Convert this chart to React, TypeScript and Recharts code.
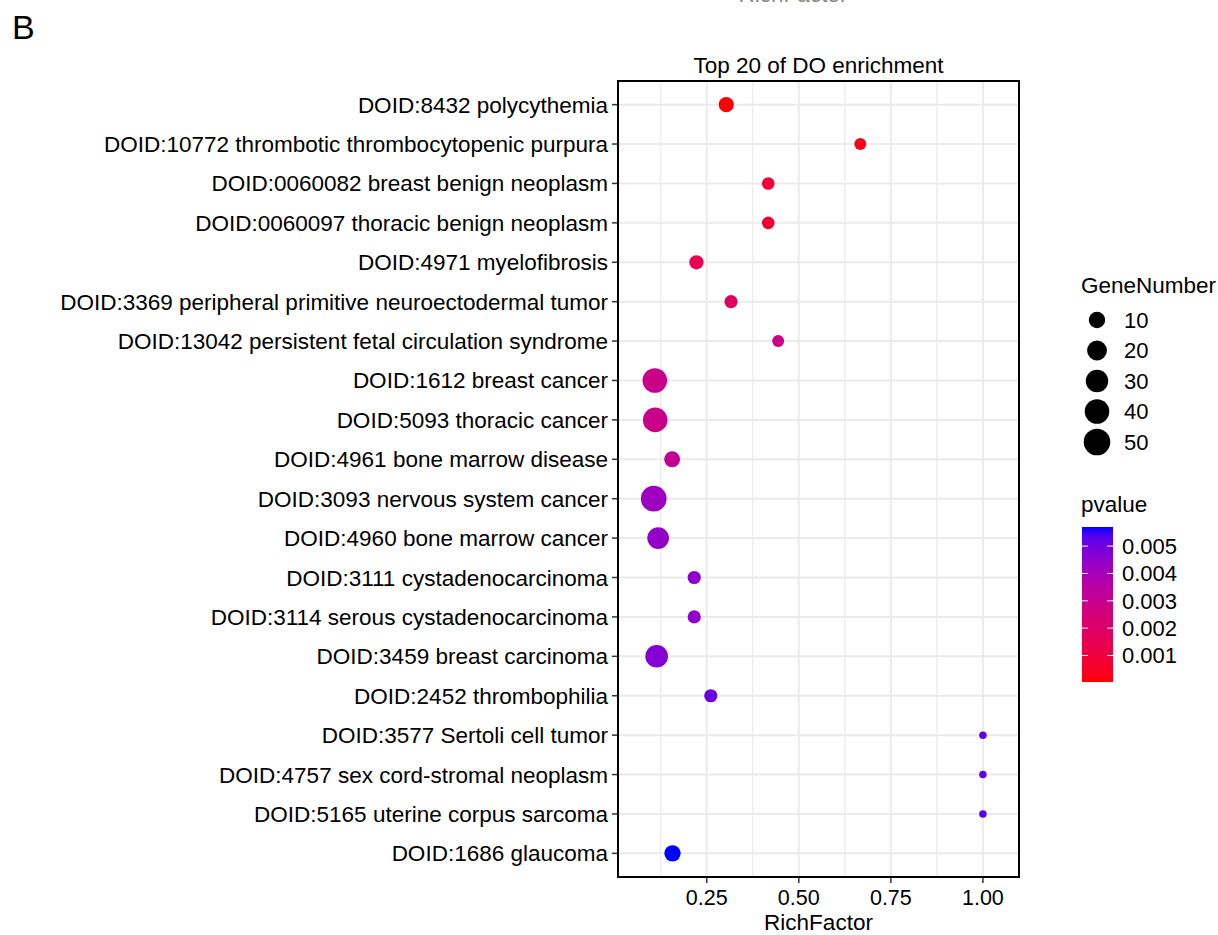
import React from 'react';
import { ScatterChart, Scatter, XAxis, YAxis, CartesianGrid } from 'recharts';

// Top 20 DO terms, top row first
const terms = [
  'DOID:8432 polycythemia',
  'DOID:10772 thrombotic thrombocytopenic purpura',
  'DOID:0060082 breast benign neoplasm',
  'DOID:0060097 thoracic benign neoplasm',
  'DOID:4971 myelofibrosis',
  'DOID:3369 peripheral primitive neuroectodermal tumor',
  'DOID:13042 persistent fetal circulation syndrome',
  'DOID:1612 breast cancer',
  'DOID:5093 thoracic cancer',
  'DOID:4961 bone marrow disease',
  'DOID:3093 nervous system cancer',
  'DOID:4960 bone marrow cancer',
  'DOID:3111 cystadenocarcinoma',
  'DOID:3114 serous cystadenocarcinoma',
  'DOID:3459 breast carcinoma',
  'DOID:2452 thrombophilia',
  'DOID:3577 Sertoli cell tumor',
  'DOID:4757 sex cord-stromal neoplasm',
  'DOID:5165 uterine corpus sarcoma',
  'DOID:1686 glaucoma',
];
const richFactor = [0.303, 0.667, 0.417, 0.417, 0.222, 0.316, 0.444, 0.109, 0.110, 0.156,
  0.106, 0.118, 0.216, 0.216, 0.114, 0.261, 1.0, 1.0, 1.0, 0.157];
const geneNumber = [10, 4, 5, 5, 8, 6, 4, 46, 46, 12, 52, 32, 6, 6, 36, 6, 1, 1, 1, 13];
const pValue = [0.00003, 0.0003, 0.00088, 0.0009, 0.0014, 0.0019, 0.0027, 0.0029, 0.0029, 0.0031,
  0.0042, 0.0044, 0.0045, 0.00455, 0.0047, 0.0051, 0.0052, 0.0052, 0.0053, 0.0057];

const xTicks = [0.25, 0.5, 0.75, 1.0];
const xMinor = [0.125, 0.375, 0.625, 0.875];
const sizeBreaks = [10, 20, 30, 40, 50];
const pBreaks = [0.001, 0.002, 0.003, 0.004, 0.005];

const FONT = '"Liberation Sans", Arial, Helvetica, sans-serif';

// ggplot-like colour ramp: red -> blue in CIELAB
const toLin = (c: number) => { c /= 255; return c <= 0.04045 ? c / 12.92 : Math.pow((c + 0.055) / 1.055, 2.4); };
const fromLin = (c: number) => {
  const v = c <= 0.0031308 ? 12.92 * c : 1.055 * Math.pow(c, 1 / 2.4) - 0.055;
  return Math.round(Math.max(0, Math.min(1, v)) * 255);
};
function rgbToLab([r, g, b]: number[]) {
  const R = toLin(r), G = toLin(g), B = toLin(b);
  const X = (0.4124 * R + 0.3576 * G + 0.1805 * B) / 0.95047;
  const Y = 0.2126 * R + 0.7152 * G + 0.0722 * B;
  const Z = (0.0193 * R + 0.1192 * G + 0.9505 * B) / 1.08883;
  const f = (t: number) => (t > 0.008856 ? Math.cbrt(t) : 7.787 * t + 16 / 116);
  return [116 * f(Y) - 16, 500 * (f(X) - f(Y)), 200 * (f(Y) - f(Z))];
}
function labToHex([L, a, b]: number[]) {
  const fy = (L + 16) / 116, fx = fy + a / 500, fz = fy - b / 200;
  const inv = (t: number) => (t * t * t > 0.008856 ? t * t * t : (t - 16 / 116) / 7.787);
  const X = inv(fx) * 0.95047, Y = inv(fy), Z = inv(fz) * 1.08883;
  const R = 3.2406 * X - 1.5372 * Y - 0.4986 * Z;
  const G = -0.9689 * X + 1.8758 * Y + 0.0415 * Z;
  const B = 0.0557 * X - 0.204 * Y + 1.057 * Z;
  return '#' + [R, G, B].map((c) => fromLin(c).toString(16).padStart(2, '0')).join('');
}
const LOW = rgbToLab([255, 0, 0]);
const HIGH = rgbToLab([0, 0, 255]);
const pMin = Math.min(...pValue);
const pMax = Math.max(...pValue);
const rampColor = (t: number) => labToHex(LOW.map((l, i) => l + (HIGH[i] - l) * t));
const pColor = (p: number) => rampColor((p - pMin) / (pMax - pMin));

// point diameter grows with sqrt of gene count
const gMin = Math.min(...geneNumber);
const dia = (n: number) => 7.5 + 2.55 * Math.sqrt(Math.max(0, n - gMin));

const data = terms.map((name, i) => ({
  name,
  row: i + 1,
  rich: richFactor[i],
  gene: geneNumber[i],
  p: pValue[i],
}));

const rowTicks = terms.map((_, i) => i + 1);

const Dot = (props: any) => {
  const { cx, cy, payload } = props;
  if (cx == null || cy == null) return null;
  return <circle cx={cx} cy={cy} r={dia(payload.gene) / 2} fill={pColor(payload.p)} />;
};

const minorGen = ({ xAxis }: any) => {
  const s = xAxis?.scale;
  if (!s) return [];
  return xMinor.map((v) => (typeof s === 'function' ? s(v) : s.map(v)));
};

// panel box in page pixels
const PX0 = 618, PX1 = 1019, PY0 = 81, PY1 = 877;
const BAR_X = 1082, BAR_W = 31, BAR_TOP = 527, BAR_BOT = 682;

export default function App() {
  const barY = (p: number) => BAR_BOT - ((p - pMin) / (pMax - pMin)) * (BAR_BOT - BAR_TOP);
  const stops = Array.from({ length: 21 }, (_, i) => i / 20);
  const legendRows = sizeBreaks.map((n, i) => ({ n, y: 320 + i * 30.5 }));

  return (
    <div style={{ position: 'absolute', left: 0, top: 0, width: 1218, height: 935, background: '#fff', fontFamily: FONT }}>
      <ScatterChart width={1218} height={935} margin={{ top: PY0, right: 1218 - PX1, bottom: 0, left: 0 }}>
        <CartesianGrid horizontal={false} vertical stroke="#EBEBEB" strokeWidth={1.3}
          verticalCoordinatesGenerator={minorGen} />
        <CartesianGrid stroke="#EBEBEB" strokeWidth={2} />
        <XAxis type="number" dataKey="rich" domain={[0.009, 1.098]} ticks={xTicks} allowDataOverflow
          height={935 - PY1} tickFormatter={(v: number) => v.toFixed(2)} axisLine={false}
          tickLine={{ stroke: '#333', strokeWidth: 1.5 }} tickSize={6} tickMargin={7}
          tick={{ fill: '#000', fontSize: 21.5, fontFamily: FONT }} interval={0}
          label={{ value: 'RichFactor', position: 'insideBottom', offset: 5, fill: '#000', fontSize: 22.5, fontFamily: FONT }} />
        <YAxis type="number" dataKey="row" domain={[0.4, 20.6]} ticks={rowTicks} reversed interval={0}
          width={PX0} tickFormatter={(v: number) => terms[v - 1] ?? ''} axisLine={false}
          tickLine={{ stroke: '#333', strokeWidth: 1.5 }} tickSize={6} tickMargin={4}
          tick={{ fill: '#000', fontSize: 22.5, fontFamily: FONT }} />
        <Scatter data={data} shape={Dot} isAnimationActive={false} />
      </ScatterChart>

      <svg width={1218} height={935} style={{ position: 'absolute', left: 0, top: 0, pointerEvents: 'none' }}
        fontFamily={FONT}>
        <defs>
          <linearGradient id="pbar" x1="0" y1="1" x2="0" y2="0">
            {stops.map((t) => (
              <stop key={t} offset={`${t * 100}%`} stopColor={rampColor(t)} />
            ))}
          </linearGradient>
        </defs>
        <text x={12} y={38.5} fontSize={34} fill="#000">B</text>
        <text x={793} y={2} fontSize={22.5} fill="#888" textAnchor="middle">RichFactor</text>
        <text x={(PX0 + PX1) / 2} y={73} fontSize={22.5} fill="#000" textAnchor="middle">Top 20 of DO enrichment</text>
        <rect x={PX0} y={PY0} width={PX1 - PX0} height={PY1 - PY0} fill="none" stroke="#000" strokeWidth={2} />

        <text x={1081} y={293} fontSize={22.5} fill="#000">GeneNumber</text>
        {legendRows.map(({ n, y }) => (
          <g key={n}>
            <circle cx={1097} cy={y} r={(dia(n) + 1.2) / 2} fill="#000" />
            <text x={1124} y={y} dy="0.36em" fontSize={22} fill="#000">{n}</text>
          </g>
        ))}

        <text x={1081} y={512} fontSize={22.5} fill="#000">pvalue</text>
        <rect x={BAR_X} y={BAR_TOP} width={BAR_W} height={BAR_BOT - BAR_TOP} fill="url(#pbar)" />
        {pBreaks.map((p) => (
          <g key={p}>
            <line x1={BAR_X} x2={BAR_X + 6} y1={barY(p)} y2={barY(p)} stroke="#fff" strokeWidth={1} />
            <line x1={BAR_X + BAR_W - 6} x2={BAR_X + BAR_W} y1={barY(p)} y2={barY(p)} stroke="#fff" strokeWidth={1} />
            <text x={1122} y={barY(p)} dy="0.36em" fontSize={22} fill="#000">{p.toFixed(3)}</text>
          </g>
        ))}
      </svg>
    </div>
  );
}
